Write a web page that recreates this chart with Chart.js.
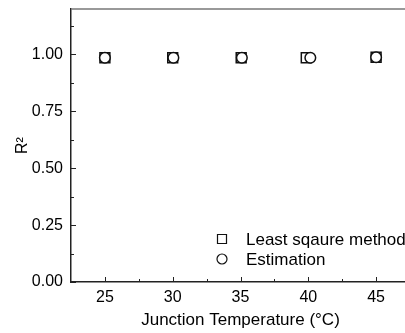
<!DOCTYPE html>
<html lang="en">
<head>
    <meta charset="UTF-8">
    <title>R2 vs Junction Temperature</title>
    <script src="https://cdn.jsdelivr.net/npm/chart.js"></script>
    <style>
        body { margin: 0; overflow: hidden; background: #fff; }
        #wrap { width: 420px; height: 333px; }
    </style>
</head>
<body>
    <div id="wrap">
        <canvas id="r2Chart" width="420" height="333"></canvas>
    </div>

    <script>
        // data
        const lsqTemp = [25, 30, 35.05, 39.85, 45];
        const lsqR2 = [0.986, 0.986, 0.986, 0.986, 0.988];
        const estTemp = [25, 30.05, 35.1, 40.15, 45];
        const estR2 = [0.986, 0.986, 0.986, 0.986, 0.988];

        const xTicks = [25, 30, 35, 40, 45];
        const xMinor = [27.5, 32.5, 37.5, 42.5];
        const yTicks = [0, 0.25, 0.5, 0.75, 1.0];
        const yMinor = [0.125, 0.375, 0.625, 0.875, 1.125];

        const seriesNames = ['Least sqaure method', 'Estimation'];

        const toPoints = (xs, ys) => xs.map((x, i) => ({ x: x, y: ys[i] }));

        // inward tick marks + grey top frame line
        const frameTicks = {
            id: 'frameTicks',
            afterDraw(chart) {
                const ctx = chart.ctx;
                const { left, right, top, bottom } = chart.chartArea;
                const xs = chart.scales.x, ys = chart.scales.y;
                ctx.save();
                ctx.strokeStyle = '#222';
                ctx.lineWidth = 1;
                ctx.beginPath();
                xTicks.forEach(v => { const p = Math.round(xs.getPixelForValue(v)) + 0.5; ctx.moveTo(p, bottom); ctx.lineTo(p, bottom - 5); });
                xMinor.forEach(v => { const p = Math.round(xs.getPixelForValue(v)) + 0.5; ctx.moveTo(p, bottom); ctx.lineTo(p, bottom - 3); });
                yTicks.forEach(v => { const p = Math.round(ys.getPixelForValue(v)) + 0.5; ctx.moveTo(left, p); ctx.lineTo(left + 5, p); });
                yMinor.forEach(v => { const p = Math.round(ys.getPixelForValue(v)) + 0.5; ctx.moveTo(left, p); ctx.lineTo(left + 3, p); });
                ctx.stroke();

                ctx.strokeStyle = '#777';
                ctx.lineWidth = 1.5;
                ctx.beginPath();
                ctx.moveTo(left, top);
                ctx.lineTo(right, top);
                ctx.stroke();
                ctx.restore();
            }
        };

        // legend inside the plot, lower right
        const insideLegend = {
            id: 'insideLegend',
            afterDraw(chart) {
                const ctx = chart.ctx;
                const mx = 222, tx = 246, y0 = 239, gap = 20;
                ctx.save();
                ctx.font = '17px "Liberation Sans", Arial, sans-serif';
                ctx.textBaseline = 'middle';
                ctx.fillStyle = '#000';
                ctx.strokeStyle = '#111';
                ctx.lineWidth = 1.2;
                chart.data.datasets.forEach((ds, i) => {
                    const y = y0 + i * gap;
                    ctx.beginPath();
                    if (ds.pointStyle === 'rect') {
                        ctx.rect(mx - 4.5, y - 4.5, 9, 9);
                    } else {
                        ctx.arc(mx, y, 5, 0, Math.PI * 2);
                    }
                    ctx.stroke();
                    ctx.fillText(ds.label, tx, y + 1);
                });
                ctx.restore();
            }
        };

        const font = { family: '"Liberation Sans", Arial, sans-serif', size: 16 };
        const titleFont = { family: '"Liberation Sans", Arial, sans-serif', size: 17 };

        new Chart(document.getElementById('r2Chart'), {
            type: 'scatter',
            data: {
                datasets: [
                    {
                        label: seriesNames[0],
                        data: toPoints(lsqTemp, lsqR2),
                        pointStyle: 'rect',
                        pointRadius: 7,
                        pointBorderWidth: 1.5,
                        borderColor: '#111',
                        backgroundColor: '#fff',
                        order: 1
                    },
                    {
                        label: seriesNames[1],
                        data: toPoints(estTemp, estR2),
                        pointStyle: 'circle',
                        pointRadius: 5.3,
                        pointBorderWidth: 1.5,
                        borderColor: '#111',
                        backgroundColor: '#fff',
                        order: 0
                    }
                ]
            },
            options: {
                responsive: false,
                animation: false,
                devicePixelRatio: 1,
                layout: { padding: { top: 0, right: 10, left: 0, bottom: 0 } },
                plugins: {
                    legend: { display: false },
                    tooltip: { enabled: false }
                },
                scales: {
                    x: {
                        type: 'linear',
                        min: 22.5,
                        max: 47.5,
                        afterBuildTicks: s => { s.ticks = xTicks.map(v => ({ value: v })); },
                        afterFit: s => { s.height = 51; },
                        grid: { display: false, drawTicks: false },
                        border: { display: true, color: '#222', width: 1.5 },
                        ticks: { color: '#000', font: font, padding: 6, maxRotation: 0 },
                        title: { display: true, text: 'Junction Temperature (°C)', color: '#000', font: titleFont, padding: { top: 0, bottom: 2 } }
                    },
                    y: {
                        min: 0,
                        max: 1.2,
                        afterBuildTicks: s => { s.ticks = yTicks.map(v => ({ value: v })); },
                        afterFit: s => { s.width = 71; s.paddingTop = 9; },
                        grid: { display: false, drawTicks: false },
                        border: { display: true, color: '#222', width: 1.5 },
                        ticks: { color: '#000', font: font, padding: 8, callback: v => Number(v).toFixed(2) },
                        title: { display: true, text: 'R²', color: '#000', font: font, padding: { top: 13, bottom: 0 } }
                    }
                }
            },
            plugins: [frameTicks, insideLegend]
        });
    </script>
</body>
</html>
